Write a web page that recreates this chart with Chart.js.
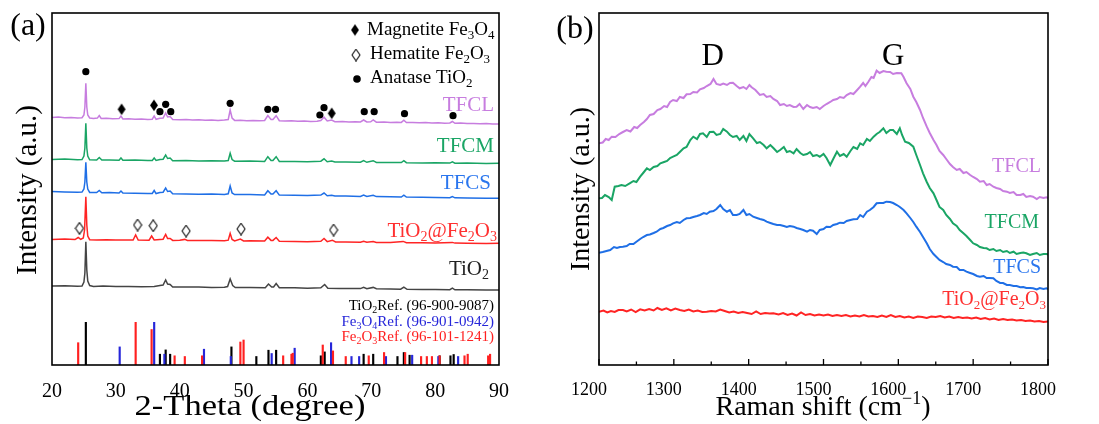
<!DOCTYPE html>
<html>
<head>
<meta charset="utf-8">
<script src="https://cdn.jsdelivr.net/npm/chart.js@4.4.0/dist/chart.umd.min.js"></script>
<style>
  html, body { margin: 0; padding: 0; background: #fff; }
  #wrap { position: relative; width: 1099px; height: 424px; overflow: hidden; }
  canvas { position: absolute; top: 0; }
  #xrd { left: 0; }
  #raman { left: 545px; }
</style>
</head>
<body>
<div id="wrap">
  <canvas id="xrd" width="545" height="424"></canvas>
  <canvas id="raman" width="554" height="424"></canvas>
</div>
<script>
// ===== DATA: (a) XRD patterns, [2-theta, intensity offset] =====
const xrdTicks = [20, 30, 40, 50, 60, 70, 80, 90];

const xrdTFCL = [[20,247.6],[21,247.9],[22,247.2],[23,247.5],[24,246.9],[24.7,247.3],[25.0,250],[25.15,258],[25.3,281.7],[25.45,258],[25.6,250],[25.9,247],[26.5,246.6],[27.1,246.9],[27.4,249.5],[27.7,246.5],[28.5,246.8],[29.5,246.2],[30.5,246.4],[30.8,249],[31.1,246.1],[32,246.3],[33,245.8],[34,246],[35,245.6],[35.7,245.8],[36.0,249],[36.3,245.7],[36.9,246.8],[37.4,247],[37.8,252],[38.1,248],[38.5,248.5],[38.9,245.5],[40,245.2],[41,245.5],[42,245],[43,245.3],[44,244.8],[45,245],[46,244.6],[47,244.9],[47.6,245.5],[47.9,255],[48.2,247],[48.6,244.6],[49.5,244.8],[50.5,244.3],[51.5,244.6],[52.5,244.2],[53.3,244.5],[53.8,249.5],[54.3,245.5],[54.6,245.5],[55.1,249.3],[55.6,244.3],[56.5,243.9],[57.5,244.2],[58.5,243.7],[59.5,244],[60.5,243.5],[61.5,243.8],[62.1,244.5],[62.6,247.8],[63.1,244],[63.8,245],[64.3,243.3],[65.5,243.4],[66.5,243],[67.5,243.3],[68.3,243],[68.8,245],[69.3,243],[69.9,243.2],[70.3,245],[70.8,242.8],[72,242.9],[73,242.5],[74,242.8],[74.7,242.6],[75.1,244.8],[75.5,242.4],[76.5,242.6],[77.5,242.2],[78.5,242.4],[79.5,242],[80.5,242.2],[81.5,241.8],[82.3,242],[82.7,243.5],[83.1,241.7],[84,241.9],[85,241.5],[86,241.6],[87,241.2],[88,241.4],[89,241],[90,241.1]];

const xrdTFCM = [[20,205.6],[22,205.9],[24,205.3],[24.7,205.5],[25.0,209],[25.15,217],[25.3,241.7],[25.45,217],[25.6,209],[25.9,205.2],[27,205],[27.4,207.5],[27.8,204.9],[29,205.1],[30.5,204.7],[30.8,207],[31.1,204.7],[33,204.9],[35,204.5],[35.7,204.6],[36.0,207],[36.3,204.5],[36.9,205.5],[37.4,205.8],[37.8,210],[38.1,206.5],[38.5,207],[38.9,204.3],[41,204.4],[43,204],[45,204.2],[47,203.9],[47.6,204.5],[47.9,211.7],[48.2,205.5],[48.6,203.8],[51,204],[53.3,203.6],[53.8,208.3],[54.3,204.5],[54.6,204.5],[55.1,208.3],[55.6,203.5],[58,203.6],[60,203.2],[62.1,203.8],[62.6,206.2],[63.1,203.3],[63.8,204],[64.3,203],[66,203.1],[68.3,202.8],[68.8,204.5],[69.3,202.7],[70.3,204.3],[70.8,202.6],[73,202.5],[74.7,202.4],[75.1,204.4],[75.5,202.3],[78,202.1],[80,202.2],[82.3,201.9],[82.7,203.2],[83.1,201.8],[85,201.9],[88,201.6],[90,201.7]];

const xrdTFCS = [[20,173.4],[22,173],[24,172.8],[24.7,172.9],[25.0,176],[25.15,183],[25.3,202.7],[25.45,183],[25.6,176],[25.9,172.6],[27,172.4],[27.4,174.5],[27.8,172.2],[29,172.4],[30.5,172],[30.8,174],[31.1,171.9],[33,171.8],[35,171.5],[35.7,171.6],[36.0,174.5],[36.3,171.4],[36.9,172.4],[37.4,172.8],[37.8,177],[38.1,173.5],[38.5,174],[38.9,171.2],[41,171.1],[43,170.8],[45,170.9],[47,170.5],[47.6,171.2],[47.9,179],[48.2,172],[48.6,170.4],[51,170.4],[53.3,170.1],[53.8,174.3],[54.3,171],[54.6,171],[55.1,174.3],[55.6,169.9],[58,169.8],[60,169.5],[62.1,169.9],[62.6,172],[63.1,169.3],[63.8,169.8],[64.3,169.1],[66,169],[68.3,168.6],[68.8,170],[69.3,168.5],[70.3,169.8],[70.8,168.4],[73,168.2],[74.7,168],[75.1,169.8],[75.5,167.9],[78,167.7],[80,167.6],[82.3,167.3],[82.7,168.5],[83.1,167.2],[85,167.1],[88,166.8],[90,166.7]];

const xrdTiFe = [[20,125.6],[22,125.9],[23.6,125.4],[24.1,127.5],[24.5,125.6],[24.9,127],[25.1,135],[25.3,168.3],[25.45,140],[25.6,129],[25.9,125.3],[27,125.1],[28.5,125.3],[30,124.9],[31.5,125],[32.7,124.9],[33.1,130],[33.5,125],[35.2,124.8],[35.6,129],[36.0,125],[36.9,125.5],[37.4,125.8],[37.8,130.5],[38.1,126.5],[38.5,126.5],[38.9,124.6],[40,124.7],[40.8,125.6],[41.2,124.5],[43,124.4],[45,124.5],[47,124.2],[47.6,124.8],[47.9,131.7],[48.2,125.5],[48.6,124],[49.5,126],[50,124.1],[51,124.2],[53.3,123.9],[53.8,127.8],[54.3,124.6],[54.6,124.6],[55.1,127.5],[55.6,123.7],[58,123.6],[60,123.3],[62.1,123.8],[62.6,126.5],[63.1,123.4],[63.9,124.8],[64.4,123.1],[66,123.1],[68.3,122.7],[68.8,123.8],[69.3,122.7],[70.3,123.5],[70.8,122.6],[73,122.5],[75,123.6],[75.5,122.3],[78,122.2],[80,122],[82.7,122.6],[83.1,121.9],[85,121.8],[88,121.6],[90,121.7]];

const xrdTiO2 = [[20,79.1],[22,79.3],[24,78.8],[24.7,79],[25.0,83],[25.15,92],[25.3,123.3],[25.45,95],[25.6,84],[25.9,79.5],[26.5,78.6],[28,78.9],[30,78.4],[32,78.6],[34,78.2],[36,78.4],[36.9,79.5],[37.4,80],[37.8,85],[38.1,81],[38.5,80.5],[38.9,78],[41,77.9],[43,78],[45,77.6],[47,77.8],[47.5,78.5],[47.9,86],[48.3,79.5],[48.7,77.5],[51,77.6],[53.4,77.3],[53.9,81],[54.4,78],[54.7,78],[55.1,81.5],[55.6,77.2],[58,77.2],[60,76.8],[62.1,77.2],[62.7,80.5],[63.2,76.8],[65,76.6],[68.3,76.4],[68.8,77.8],[69.3,76.3],[70.3,77.6],[70.8,76.2],[73,76],[74.6,75.8],[75.1,77.8],[75.6,75.7],[78,75.6],[80,75.5],[82.3,75.3],[82.7,76.8],[83.1,75.2],[85,75.2],[88,75],[90,75.1]];

// reference sticks [2-theta, height]
const refTiO2 = [[25.3,42.7],[36.9,10.8],[37.8,15.1],[38.5,10.8],[48.1,18.1],[52.0,8.5],[53.9,14.8],[55.1,14.8],[62.1,9.2],[62.7,13.1],[68.8,10.8],[70.3,10.8],[74.1,8.5],[75.1,12.5],[76.0,9.8],[80.7,9.2],[82.4,9.2],[82.9,10.5]];
const refFe3O4 = [[30.6,18.1],[36.0,42.7],[37.6,10.8],[43.8,15.8],[48.0,8.5],[54.4,11.5],[58.0,16.8],[63.7,22.3],[66.9,8.5],[68.1,8.5],[72.3,8.5],[76.4,9.8],[80.5,8.5],[83.6,8.5]];
const refFe2O3 = [[24.1,22.3],[33.1,42.7],[35.6,35.5],[39.2,9.2],[40.8,8.5],[43.5,9.2],[49.5,23],[50.0,25],[56.2,9.2],[57.5,10.8],[57.7,11.8],[62.4,20],[64.0,14.1],[66.0,8.5],[69.6,9.2],[72.0,12.5],[75.3,12.5],[77.8,8.5],[78.7,8.5],[79.5,8.5],[80.7,9.2],[84.6,9.2],[85.1,10.8],[88.3,9.2],[88.6,10.8]];

// phase markers [2-theta, height]
const markAnatase = [[25.3,293.3],[36.9,253.3],[37.8,260.7],[38.6,253.3],[47.9,261.7],[53.8,255.7],[55.0,255.7],[61.95,250],[62.6,257.3],[68.9,253.3],[70.45,253.3],[75.2,251.3],[82.8,249.3]];
const markMagnetite = [[30.9,255.7],[35.97,259.7],[63.8,251.7]];
const markHematite = [[24.3,136.7],[33.4,140],[35.85,139.3],[41.0,134],[49.6,136],[64.1,135]];

// ===== DATA: (b) Raman spectra, [shift, intensity offset] =====
const ramanTicks = [1200, 1300, 1400, 1500, 1600, 1700, 1800];

const ramanTFCL = [[1200,221.7],[1205,222.5],[1209,226],[1213,225],[1217,228.3],[1222,228],[1227,231],[1232,233],[1237,235],[1242,233.5],[1247,238],[1251,237],[1255,240],[1260,243],[1264,246],[1268,250],[1273,251],[1278,255],[1282,256],[1287,259],[1291,258],[1295,263],[1299,265],[1304,264],[1308,268],[1313,267],[1317,270.7],[1322,271],[1326,273],[1331,272.5],[1335,275.7],[1340,277],[1344,279],[1349,281],[1353,286],[1357,281],[1362,280],[1366,281.5],[1371,280],[1375,282],[1379,282.3],[1384,279],[1388,276.7],[1393,278],[1397,276],[1401,280],[1404,277.7],[1409,275],[1415,270],[1420,271],[1424,268],[1429,269],[1433,266],[1438,264],[1442,260],[1447,261],[1451,259],[1455,260],[1460,258],[1464,258.3],[1468,261],[1473,256],[1478,260],[1482,258],[1486,257],[1491,258],[1495,256],[1500,259],[1504,261],[1509,263],[1513,265],[1518,266],[1522,268],[1527,267],[1531,270],[1536,272],[1540,271],[1545,275],[1549,278.3],[1553,282],[1556,279],[1560,283.3],[1564,288],[1567,287],[1571,294.3],[1575,292],[1580,294],[1584,293.3],[1589,293],[1593,291],[1598,292],[1604,291.7],[1607,288],[1611,281.7],[1616,276],[1620,268.3],[1624,263],[1629,255],[1633,247],[1638,238.3],[1642,232],[1647,225],[1651,220],[1655,214],[1660,210],[1664,206],[1669,201],[1673,198],[1678,195],[1682,196],[1687,192],[1691,193],[1696,190],[1700,188],[1705,186],[1709,183.3],[1714,184],[1718,180],[1722,181],[1727,178.3],[1731,177],[1736,176],[1740,174],[1745,173.3],[1749,172],[1754,173],[1758,170],[1763,170],[1767,171],[1771,168],[1776,169],[1780,168.3],[1785,166],[1789,168],[1794,167],[1798,167.7],[1800,167]];

const ramanTFCM = [[1200,166.7],[1204,167],[1208,170],[1213,168],[1217,165],[1221,178.3],[1226,179],[1230,180],[1235,179],[1241,181.7],[1246,184],[1250,183],[1255,188.3],[1259,192],[1264,196.7],[1268,195],[1273,198],[1278,199],[1282,201.7],[1287,203],[1291,204],[1295,207],[1299,208.3],[1304,210],[1308,213],[1313,216.7],[1317,218],[1322,225],[1326,228.3],[1331,226],[1335,231],[1339,231.7],[1344,228],[1348,233],[1353,233.3],[1357,230],[1362,231],[1366,236],[1371,233.3],[1375,230],[1379,228],[1384,229],[1388,225],[1393,229],[1397,224],[1401,231],[1406,226.7],[1411,222],[1415,223],[1420,220],[1424,216.7],[1429,220],[1433,217],[1438,213],[1442,215],[1447,218],[1451,213],[1455,214],[1460,211.7],[1464,216],[1469,212],[1473,210],[1478,211],[1482,213],[1486,209],[1491,210],[1495,208.3],[1500,211],[1504,207],[1509,200],[1513,206],[1518,213.3],[1522,209],[1527,211],[1531,208.3],[1536,214],[1540,218],[1545,216],[1549,221.7],[1553,220],[1558,226],[1562,224],[1567,228.3],[1571,231],[1575,233],[1580,236.7],[1584,232],[1589,235],[1593,235],[1598,231],[1602,236.7],[1605,230],[1609,223.3],[1614,222],[1620,218.3],[1624,210],[1629,200],[1633,191.7],[1638,183],[1642,177],[1647,171.7],[1651,165],[1655,158],[1660,155],[1664,150],[1669,146],[1673,141.7],[1678,139],[1682,135],[1687,131.7],[1691,129],[1696,125],[1700,121.7],[1705,120],[1709,118],[1714,117],[1718,116.7],[1722,115],[1727,116],[1731,114],[1736,115],[1740,113],[1745,114],[1749,112],[1754,113.3],[1758,111],[1763,112],[1767,112.5],[1771,111.7],[1776,110],[1780,111],[1785,112],[1789,110],[1794,111],[1798,111],[1800,110.5]];

const ramanTFCS = [[1200,112.3],[1205,113],[1210,114],[1215,115],[1220,118],[1224,117],[1228,118],[1232,118.3],[1237,119],[1241,121],[1246,121],[1250,123.3],[1255,126],[1259,128],[1264,130],[1268,130.5],[1273,132],[1277,133.3],[1282,136],[1286,137],[1291,139],[1295,140],[1299,141.7],[1304,143],[1308,142],[1313,145],[1317,146.7],[1322,147],[1326,148],[1331,149],[1335,150],[1340,152],[1344,151],[1348,153.3],[1353,154],[1357,156],[1362,160],[1366,156],[1371,153.3],[1375,155],[1379,150],[1384,150],[1388,151],[1393,155],[1397,150],[1401,151],[1406,148.3],[1411,147],[1415,146],[1420,145],[1424,143.3],[1429,142],[1433,141],[1438,140],[1442,140],[1447,139],[1451,138],[1455,139],[1460,138.3],[1464,137],[1469,136],[1473,135],[1478,133.3],[1482,135],[1486,134.3],[1491,131],[1495,135],[1500,136],[1504,138.3],[1509,138],[1513,140],[1518,141],[1522,142.3],[1527,142],[1531,144],[1536,145],[1540,145.7],[1545,146],[1549,150],[1553,148],[1558,153.3],[1562,155],[1567,158],[1571,161.7],[1575,162],[1580,162],[1584,163.3],[1589,163],[1593,162],[1598,160],[1602,158],[1607,155],[1611,151.7],[1616,147],[1620,143],[1624,138.3],[1629,133],[1633,128],[1638,121.7],[1642,116],[1647,111],[1651,108],[1655,105],[1660,103],[1664,101],[1669,100],[1673,98.3],[1678,98],[1682,95],[1687,95],[1691,93.3],[1696,92],[1700,91],[1705,89],[1709,88.3],[1714,89],[1718,87],[1722,87],[1727,86.7],[1731,84],[1736,82],[1740,82],[1745,80],[1749,80],[1754,79],[1758,79],[1763,77.7],[1767,78],[1771,77],[1776,77],[1780,76.7],[1785,75.5],[1789,77],[1794,76],[1798,76.7],[1800,76]];

const ramanTiFe = [[1200,53.3],[1206,54.5],[1211,52.5],[1216,54],[1221,53],[1226,55],[1232,55],[1237,53.5],[1243,55.5],[1249,53],[1255,55.7],[1261,54.5],[1267,56],[1273,54.5],[1278,57],[1284,55],[1290,56.7],[1296,54.5],[1302,56.5],[1308,55],[1314,54],[1320,55.5],[1326,53.5],[1332,54.5],[1338,53],[1344,53.3],[1350,54],[1356,53.5],[1362,55.5],[1368,54],[1374,52.5],[1380,53.5],[1386,52],[1392,53],[1398,52],[1404,51],[1410,53.5],[1416,51],[1422,52],[1428,51.5],[1433,51.7],[1440,50.5],[1446,52],[1452,50],[1458,51.5],[1464,49.5],[1470,52.5],[1476,50],[1482,51],[1488,49.5],[1494,50.5],[1500,49.5],[1506,50.5],[1512,49],[1518,50],[1524,49],[1530,50],[1536,48.5],[1542,49.5],[1548,48.5],[1554,50],[1560,48.5],[1566,49],[1572,48],[1578,49.5],[1584,48],[1590,50],[1596,48],[1602,49],[1608,47.5],[1614,48.5],[1620,47],[1626,48.5],[1632,48],[1638,47],[1644,48.5],[1650,48],[1656,49],[1662,47.5],[1668,48.5],[1674,47],[1680,48],[1686,47],[1692,47.5],[1698,46.5],[1704,47.5],[1710,46],[1716,47],[1722,45.5],[1728,46.5],[1734,45],[1740,46],[1746,45],[1752,45.5],[1758,44.5],[1764,45],[1770,44],[1776,44.5],[1782,43.5],[1788,44],[1794,43],[1800,43.5]];

// ===== STYLE =====
const SERIF = "'Liberation Serif', 'Times New Roman', serif";
const C = {
  tfcl: "#c77ddf", tfclText: "#c77ddf",
  tfcm: "#1aa565", tfcmText: "#1aa565",
  tfcs: "#1f6fe6", tfcsText: "#2a76ee",
  tife: "#ff2424", tifeText: "#ff3030",
  tio2: "#444444",
  refBlack: "#000000", refBlue: "#2626d9", refRed: "#ff2020"
};

const pts = arr => arr.map(p => ({ x: p[0], y: p[1] }));

// ===== RICH TEXT (sub/superscripts) =====
function richParts(str) {
  const parts = [];
  const re = /([_^])\{([^}]*)\}|([^_^]+)/g;
  let m;
  while ((m = re.exec(str))) {
    if (m[3]) parts.push({ t: m[3], k: 0 });
    else parts.push({ t: m[2], k: m[1] === "_" ? 1 : -1 });
  }
  return parts;
}

function drawRich(ctx, str, x, y, size, color, align, rotate, hscale) {
  const parts = richParts(str);
  ctx.save();
  ctx.translate(x, y);
  if (rotate) ctx.rotate(rotate);
  if (hscale) ctx.scale(hscale, 1);
  ctx.fillStyle = color;
  ctx.textBaseline = "middle";
  ctx.textAlign = "left";
  let w = 0;
  parts.forEach(p => {
    p.size = p.k ? Math.round(size * 0.66) : size;
    ctx.font = p.size + "px " + SERIF;
    p.w = ctx.measureText(p.t).width;
    w += p.w;
  });
  let cx = align === "right" ? -w : align === "center" ? -w / 2 : 0;
  parts.forEach(p => {
    ctx.font = p.size + "px " + SERIF;
    const dy = p.k === 1 ? size * 0.3 : p.k === -1 ? -size * 0.32 : 0;
    ctx.fillText(p.t, cx, dy);
    cx += p.w;
  });
  ctx.restore();
}

function diamondImage(filled) {
  const c = document.createElement("canvas");
  c.width = 10; c.height = 13;
  const g = c.getContext("2d");
  g.beginPath();
  g.moveTo(5, 0.7); g.lineTo(9, 6.5); g.lineTo(5, 12.3); g.lineTo(1, 6.5);
  g.closePath();
  if (filled) { g.fillStyle = "#000"; g.fill(); }
  else { g.strokeStyle = "#111"; g.lineWidth = 1.1; g.stroke(); }
  return c;
}
const solidDiamond = diamondImage(true);
const openDiamond = diamondImage(false);

function frame(chart) {
  const { ctx, chartArea: a } = chart;
  ctx.save();
  ctx.strokeStyle = "#000";
  ctx.lineWidth = 1.6;
  ctx.strokeRect(a.left, a.top, a.right - a.left, a.bottom - a.top);
  ctx.restore();
}

// ===== (a) XRD =====
const sticks = [
  ...refTiO2.map(p => ({ x: p[0], y: p[1], c: C.refBlack })),
  ...refFe3O4.map(p => ({ x: p[0], y: p[1], c: C.refBlue })),
  ...refFe2O3.map(p => ({ x: p[0], y: p[1], c: C.refRed }))
];

function trace(data, color, width) {
  return { type: "line", data: pts(data), borderColor: color, borderWidth: width, pointRadius: 0, tension: 0, fill: false };
}

const xrdText = {
  id: "xrdText",
  afterDraw(chart) {
    const ctx = chart.ctx;
    frame(chart);
    drawRich(ctx, "(a)", 28, 27, 32, "#000", "center");
    drawRich(ctx, "Intensity (a.u.)", 28, 190, 29, "#000", "center", -Math.PI / 2);
    drawRich(ctx, "2-Theta (degree)", 250, 407, 30, "#000", "center", 0, 1.15);

    // legend
    ctx.drawImage(solidDiamond, 355 - 5, 30 - 6.5);
    drawRich(ctx, "Magnetite Fe_{3}O_{4}", 367, 30, 19, "#000", "left");
    ctx.drawImage(openDiamond, 356 - 5, 55 - 6.5);
    drawRich(ctx, "Hematite Fe_{2}O_{3}", 370, 54, 19, "#000", "left");
    ctx.beginPath(); ctx.fillStyle = "#000"; ctx.arc(357, 79, 3.8, 0, Math.PI * 2); ctx.fill();
    drawRich(ctx, "Anatase TiO_{2}", 370, 78, 19, "#000", "left");

    // sample labels
    drawRich(ctx, "TFCL", 494, 105, 21, C.tfclText, "right");
    drawRich(ctx, "TFCM", 494, 146, 21, C.tfcmText, "right");
    drawRich(ctx, "TFCS", 491, 183, 21, C.tfcsText, "right");
    drawRich(ctx, "TiO_{2}@Fe_{2}O_{3}", 497, 231, 21, C.tifeText, "right");
    drawRich(ctx, "TiO_{2}", 489, 269, 21, "#222", "right");

    // reference cards
    drawRich(ctx, "TiO_{2}Ref. (96-900-9087)", 494, 306, 15, "#000", "right");
    drawRich(ctx, "Fe_{3}O_{4}Ref. (96-901-0942)", 494, 322, 15, C.refBlue, "right");
    drawRich(ctx, "Fe_{2}O_{3}Ref. (96-101-1241)", 494, 337, 15, C.refRed, "right");
  }
};

new Chart(document.getElementById("xrd"), {
  type: "line",
  data: {
    datasets: [
      trace(xrdTFCL, C.tfcl, 1.5),
      trace(xrdTFCM, C.tfcm, 1.5),
      trace(xrdTFCS, C.tfcs, 1.5),
      trace(xrdTiFe, C.tife, 1.5),
      trace(xrdTiO2, C.tio2, 1.5),
      { type: "line", data: pts(markAnatase), showLine: false, pointStyle: "circle", pointRadius: 3.6, backgroundColor: "#000", borderWidth: 0 },
      { type: "line", data: pts(markMagnetite), showLine: false, pointStyle: solidDiamond, pointRadius: 5 },
      { type: "line", data: pts(markHematite), showLine: false, pointStyle: openDiamond, pointRadius: 5 },
      { type: "bar", data: sticks.map(s => ({ x: s.x, y: s.y })), backgroundColor: sticks.map(s => s.c), borderWidth: 0, barThickness: 1.5 }
    ]
  },
  options: {
    responsive: false,
    animation: false,
    devicePixelRatio: 1,
    layout: { padding: { left: 0, right: 46, top: 13, bottom: 0 } },
    plugins: { legend: { display: false }, tooltip: { enabled: false } },
    scales: {
      x: {
        type: "linear", min: 20, max: 90, offset: false,
        grid: { display: false }, border: { display: false },
        afterBuildTicks: s => { s.ticks = xrdTicks.map(v => ({ value: v })); },
        ticks: { autoSkip: false, maxRotation: 0, padding: 7, color: "#000", font: { family: SERIF, size: 20 }, callback: v => String(v) },
        afterFit: s => { s.height = 59; }
      },
      y: {
        min: 0, max: 352,
        grid: { display: false }, border: { display: false },
        ticks: { display: false },
        afterFit: s => { s.width = 52; }
      }
    }
  },
  plugins: [xrdText]
});

// ===== (b) Raman =====
const ramanText = {
  id: "ramanText",
  afterDraw(chart) {
    const ctx = chart.ctx;
    const xs = chart.scales.x;
    const a = chart.chartArea;
    frame(chart);
    // inward ticks
    ctx.save();
    ctx.strokeStyle = "#000";
    ctx.lineWidth = 1.3;
    for (let v = 1200; v <= 1800; v += 50) {
      const px = xs.getPixelForValue(v);
      const len = v % 100 === 0 ? 6 : 3.5;
      ctx.beginPath(); ctx.moveTo(px, a.bottom); ctx.lineTo(px, a.bottom - len); ctx.stroke();
    }
    ctx.restore();

    drawRich(ctx, "(b)", 30, 30, 32, "#000", "center");
    drawRich(ctx, "Intensity (a.u.)", 37, 189, 28, "#000", "center", -Math.PI / 2);
    drawRich(ctx, "Raman shift (cm^{\u22121})", 278, 408, 28, "#000", "center");
    drawRich(ctx, "D", xs.getPixelForValue(1352), 57, 31, "#000", "center");
    drawRich(ctx, "G", xs.getPixelForValue(1593), 57, 31, "#000", "center");

    drawRich(ctx, "TFCL", 496, 167, 20, C.tfclText, "right");
    drawRich(ctx, "TFCM", 494, 223, 20, C.tfcmText, "right");
    drawRich(ctx, "TFCS", 496, 268, 20, C.tfcsText, "right");
    drawRich(ctx, "TiO_{2}@Fe_{2}O_{3}", 501, 300, 20, C.tifeText, "right");
  }
};

new Chart(document.getElementById("raman"), {
  type: "line",
  data: {
    datasets: [
      trace(ramanTFCL, C.tfcl, 2),
      trace(ramanTFCM, C.tfcm, 2),
      trace(ramanTFCS, C.tfcs, 2),
      trace(ramanTiFe, C.tife, 2)
    ]
  },
  options: {
    responsive: false,
    animation: false,
    devicePixelRatio: 1,
    layout: { padding: { left: 0, right: 51, top: 13, bottom: 0 } },
    plugins: { legend: { display: false }, tooltip: { enabled: false } },
    scales: {
      x: {
        type: "linear", min: 1200, max: 1800, offset: false,
        grid: { display: false }, border: { display: false },
        afterBuildTicks: s => { s.ticks = ramanTicks.map(v => ({ value: v })); },
        ticks: { autoSkip: false, maxRotation: 0, padding: 6, labelOffset: -10, color: "#000", font: { family: SERIF, size: 18 }, callback: v => String(v) },
        afterFit: s => { s.height = 59; }
      },
      y: {
        min: 0, max: 352,
        grid: { display: false }, border: { display: false },
        ticks: { display: false },
        afterFit: s => { s.width = 54; }
      }
    }
  },
  plugins: [ramanText]
});
</script>
</body>
</html>
